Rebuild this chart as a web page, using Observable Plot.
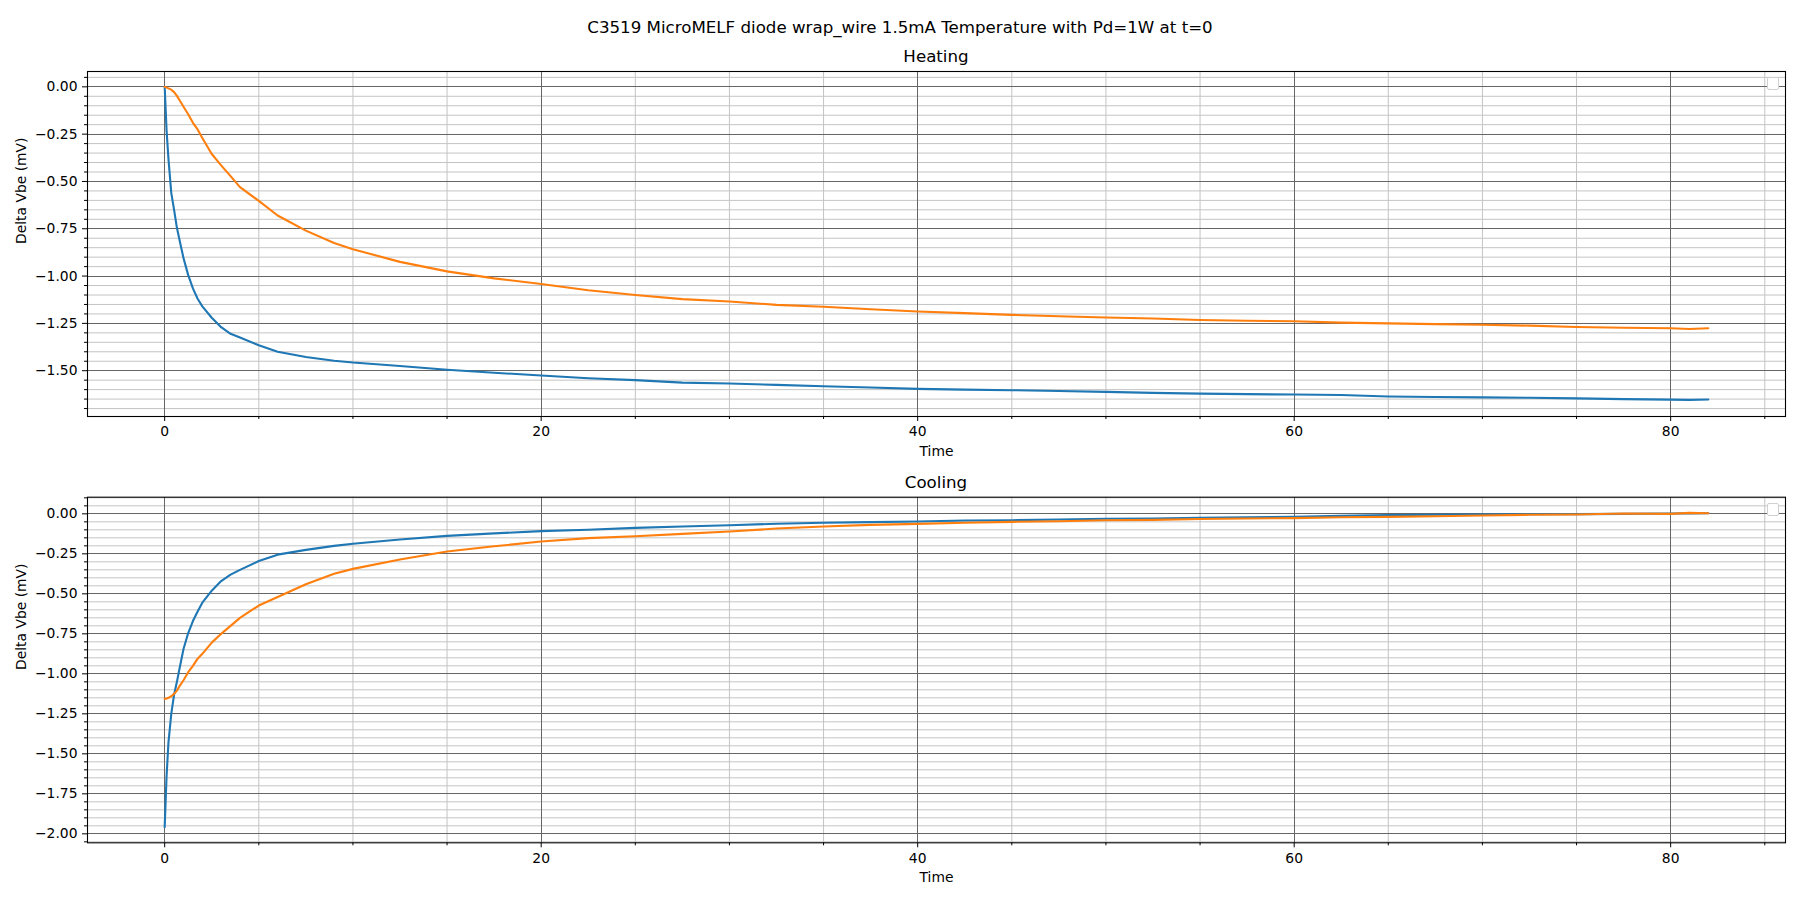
<!DOCTYPE html>
<html>
<head>
<meta charset="utf-8">
<script src="https://cdn.jsdelivr.net/npm/d3@7"></script>
<script src="https://cdn.jsdelivr.net/npm/@observablehq/plot@0.6"></script>
<style>
  body { margin: 0; background: #fff; font-family: "DejaVu Sans", sans-serif; }
  #wrap { position: relative; width: 1800px; height: 900px; overflow: hidden; }
  .panel { position: absolute; left: 0; }
  .t { position: absolute; text-align: center; font-size: 16.67px; line-height: 20px; color: #000; white-space: nowrap; }
  .leg { position: absolute; width: 10px; height: 11px; border: 1px solid #d0d0d0; border-radius: 2px; background: #fff; }
</style>
</head>
<body>
<div id="wrap">
  <div id="p1" class="panel" style="top:0px"></div>
  <div id="p2" class="panel" style="top:460px"></div>
  <div class="t" style="left:0;width:1800px;top:18px">C3519 MicroMELF diode wrap_wire 1.5mA Temperature with Pd=1W at t=0</div>
  <div class="t" style="left:87px;width:1698px;top:47px">Heating</div>
  <div class="t" style="left:87px;width:1698px;top:473px">Cooling</div>
  <div class="leg" style="left:1767px;top:77px"></div>
  <div class="leg" style="left:1767px;top:503px"></div>
</div>
<script>
// ---- Data ----
const time = [0, 0.1, 0.2, 0.35, 0.5, 0.65, 0.8, 1.0, 1.25, 1.5, 1.75, 2.0, 2.5, 3.0, 3.5, 4.0, 5.0, 6.0, 7.5, 9.0, 10, 12.5, 15, 17.5, 20, 22.5, 25, 27.5, 30, 32.5, 35, 37.5, 40, 42.5, 45, 47.5, 50, 52.5, 55, 57.5, 60, 62.5, 65, 67.5, 70, 72.5, 75, 77.5, 80, 81, 82];

const heatingBlue = [0, -0.23, -0.38, -0.56, -0.65, -0.745, -0.815, -0.905, -0.995, -1.065, -1.12, -1.16, -1.22, -1.27, -1.305, -1.325, -1.366, -1.40, -1.428, -1.447, -1.457, -1.475, -1.495, -1.511, -1.525, -1.54, -1.550, -1.563, -1.568, -1.575, -1.582, -1.589, -1.596, -1.600, -1.603, -1.607, -1.612, -1.617, -1.621, -1.624, -1.626, -1.628, -1.636, -1.639, -1.641, -1.643, -1.646, -1.650, -1.653, -1.654, -1.652];

const heatingOrange = [0, -0.003, -0.008, -0.015, -0.028, -0.048, -0.072, -0.105, -0.145, -0.19, -0.225, -0.27, -0.355, -0.415, -0.472, -0.53, -0.603, -0.68, -0.76, -0.825, -0.858, -0.925, -0.975, -1.012, -1.042, -1.075, -1.100, -1.122, -1.134, -1.152, -1.162, -1.175, -1.187, -1.196, -1.205, -1.212, -1.219, -1.224, -1.232, -1.236, -1.239, -1.246, -1.250, -1.254, -1.257, -1.262, -1.269, -1.273, -1.276, -1.280, -1.276];

const coolingBlue = [-1.958, -1.64, -1.43, -1.25, -1.13, -1.05, -0.96, -0.845, -0.745, -0.67, -0.61, -0.555, -0.48, -0.42, -0.38, -0.35, -0.295, -0.255, -0.225, -0.2, -0.187, -0.16, -0.138, -0.122, -0.108, -0.099, -0.088, -0.079, -0.071, -0.062, -0.056, -0.052, -0.048, -0.042, -0.040, -0.035, -0.031, -0.029, -0.024, -0.021, -0.019, -0.013, -0.008, -0.006, -0.004, -0.003, -0.002, 0.0, 0.002, 0.003, 0.004];

const coolingOrange = [-1.156, -1.155, -1.150, -1.14, -1.125, -1.105, -1.075, -1.04, -0.99, -0.95, -0.905, -0.875, -0.805, -0.75, -0.70, -0.65, -0.573, -0.52, -0.44, -0.375, -0.344, -0.285, -0.235, -0.203, -0.173, -0.152, -0.14, -0.125, -0.11, -0.092, -0.079, -0.069, -0.0625, -0.056, -0.05, -0.046, -0.04, -0.0375, -0.032, -0.029, -0.027, -0.021, -0.019, -0.015, -0.010, -0.006, -0.004, 0.002, 0.0, 0.006, 0.004];

// ---- Tick values ----
const xMajorTicks = [0, 20, 40, 60, 80];
const xMinorTicks = [5, 10, 15, 25, 30, 35, 45, 50, 55, 65, 70, 75, 85];
const yMajorTicksHeating = [0, -0.25, -0.5, -0.75, -1.0, -1.25, -1.5];
const yMajorTicksCooling = [0, -0.25, -0.5, -0.75, -1.0, -1.25, -1.5, -1.75, -2.0];

const seriesColors = ["#1f77b4", "#ff7f0e"];

function minorY(domain, majors) {
  const lo = Math.ceil(domain[0] / 0.05 - 1e-9), hi = Math.floor(domain[1] / 0.05 + 1e-9);
  const out = [];
  for (let k = lo; k <= hi; k++) {
    const v = +(k * 0.05).toFixed(2);
    if (!majors.some(m => Math.abs(m - v) < 1e-9)) out.push(v);
  }
  return out;
}

function panel(el, a, b, yDomain, yMajor, height, mTop, mBottom) {
  const rowsA = time.map((t, i) => ({t, v: a[i]}));
  const rowsB = time.map((t, i) => ({t, v: b[i]}));
  const yMinor = minorY(yDomain, yMajor);
  const chart = Plot.plot({
    width: 1800,
    height,
    marginLeft: 87,
    marginRight: 15,
    marginTop: mTop,
    marginBottom: mBottom,
    style: {fontFamily: "DejaVu Sans, sans-serif", fontSize: "13.89px", color: "#000", background: "none"},
    x: {domain: [-4.1, 86.1], axis: null},
    y: {domain: yDomain, axis: null},
    marks: [
      Plot.ruleX(xMinorTicks, {stroke: "#c4c4c4", strokeWidth: 1}),
      Plot.ruleY(yMinor, {stroke: "#c4c4c4", strokeWidth: 1}),
      Plot.ruleX(xMajorTicks, {stroke: "#666666", strokeWidth: 1, shapeRendering: "crispEdges"}),
      Plot.ruleY(yMajor, {stroke: "#666666", strokeWidth: 1, shapeRendering: "crispEdges"}),
      Plot.line(rowsA, {x: "t", y: "v", stroke: seriesColors[0], strokeWidth: 2.1}),
      Plot.line(rowsB, {x: "t", y: "v", stroke: seriesColors[1], strokeWidth: 2.1}),
      Plot.frame({stroke: "#000", strokeWidth: 1.1}),
      Plot.axisX({ticks: xMajorTicks, tickSize: 5, tickPadding: 5, tickFormat: d3.format("d"), label: null, stroke: "#000", fill: "#000"}),
      Plot.axisX({ticks: xMinorTicks, tickSize: 3, label: null, stroke: "#000", fill: "none"}),
      Plot.axisY({ticks: yMajor, tickSize: 5, tickPadding: 5, tickFormat: d3.format(".2f"), label: null, stroke: "#000", fill: "#000"}),
      Plot.axisY({ticks: yMinor, tickSize: 3, label: null, stroke: "#000", fill: "none"}),
      Plot.text(["Time"], {text: d => d, frameAnchor: "bottom", dy: 39.5, fill: "#000", fontSize: 13.89}),
      Plot.text(["Delta Vbe (mV)"], {text: d => d, frameAnchor: "left", dx: -66, rotate: -90, fill: "#000", fontSize: 13.89})
    ]
  });
  document.getElementById(el).appendChild(chart);
}

panel("p1", heatingBlue, heatingOrange, [-1.742, 0.081], yMajorTicksHeating, 460, 71, 44);
panel("p2", coolingBlue, coolingOrange, [-2.056, 0.104], yMajorTicksCooling, 440, 36.7, 57.7);
</script>
</body>
</html>
